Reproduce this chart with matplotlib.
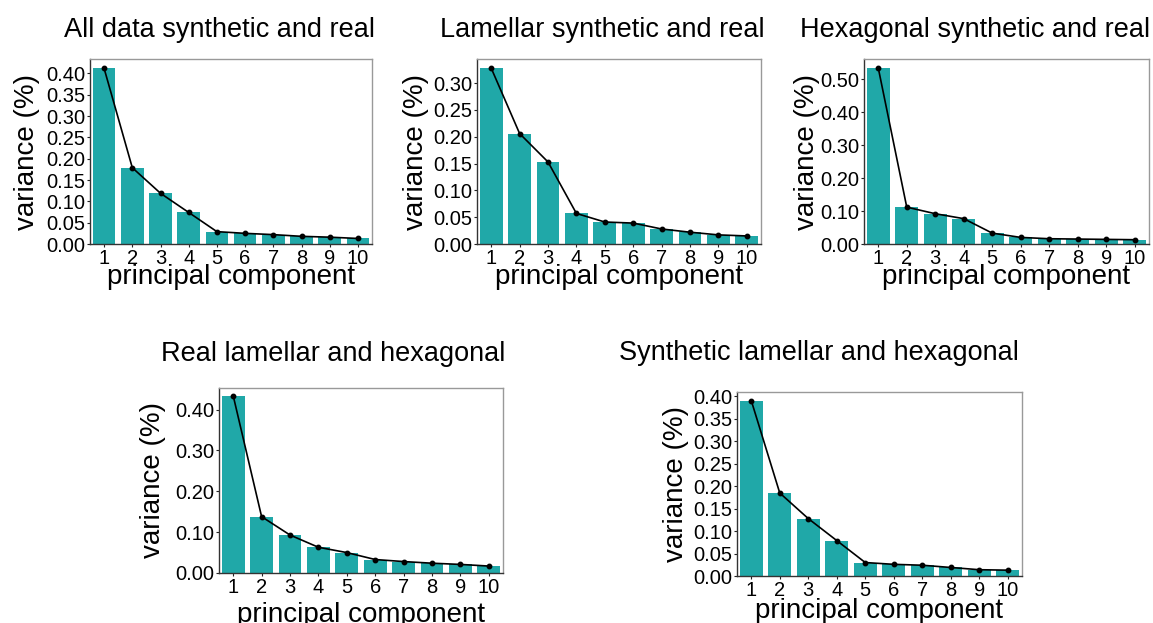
import numpy as np
import matplotlib
matplotlib.use("Agg")
import matplotlib.pyplot as plt

plt.rcParams['font.family'] = ['Liberation Sans', 'DejaVu Sans']

components = list(range(1, 11))

titles = [
    "All data synthetic and real",
    "Lamellar synthetic and real",
    "Hexagonal synthetic and real",
    "Real lamellar and hexagonal",
    "Synthetic lamellar and hexagonal",
]

var_all = [0.412, 0.179, 0.119, 0.074, 0.029, 0.025, 0.022, 0.018, 0.016, 0.013]
var_lam = [0.328, 0.206, 0.153, 0.057, 0.041, 0.039, 0.028, 0.022, 0.017, 0.015]
var_hex = [0.535, 0.112, 0.092, 0.077, 0.033, 0.020, 0.016, 0.015, 0.014, 0.013]
var_real = [0.434, 0.138, 0.093, 0.063, 0.050, 0.033, 0.028, 0.024, 0.021, 0.017]
var_syn = [0.391, 0.185, 0.128, 0.079, 0.030, 0.026, 0.024, 0.019, 0.014, 0.013]

series = [var_all, var_lam, var_hex, var_real, var_syn]
ymax = [0.434, 0.345, 0.562, 0.453, 0.41]
ystep = [0.05, 0.05, 0.10, 0.10, 0.05]

W, H = 1153, 623
# axes boxes in pixels: left, top, right, bottom
boxes = [
    (90, 59, 372, 244),
    (477, 59, 761, 244),
    (864, 59, 1149, 244),
    (219, 388, 503, 573),
    (737, 392, 1022, 576),
]
title_pos = [(219, 37), (602, 37), (975, 37), (333, 361), (819, 360)]
ylabel_x = [27, 416, 807, 153, 676]
xlabel_base = [284, 284, 284, 622, 618]

bar_color = '#20a8a8'

fig = plt.figure(figsize=(W / 100, H / 100), dpi=100)

for i, vals in enumerate(series):
    l, t, r, b = boxes[i]
    ax = fig.add_axes([l / W, 1 - b / H, (r - l) / W, (b - t) / H])
    x = np.arange(len(components))
    ax.bar(x, vals, width=0.8, color=bar_color, zorder=1)
    ax.plot(x, vals, color='black', lw=1.2, marker='o', markersize=3.2, zorder=3)
    ax.set_xlim(-0.5, 9.5)
    ax.set_ylim(0, ymax[i])
    ticks = np.arange(0, ymax[i] + 1e-9, ystep[i])
    ax.set_yticks(ticks)
    ax.set_yticklabels([f"{v:.2f}" for v in ticks])
    ax.set_xticks(x)
    ax.set_xticklabels([str(c) for c in components])
    ax.tick_params(axis='both', labelsize=14.5, length=2, width=0.8, pad=1.5,
                   colors='#222222', labelcolor='black')
    for s in ['left', 'bottom']:
        ax.spines[s].set_color('#333333')
    for s in ['top', 'right']:
        ax.spines[s].set_color('#999999')
    for s in ax.spines.values():
        s.set_linewidth(1.0)

    tx, ty = title_pos[i]
    fig.text(tx / W, 1 - ty / H, titles[i], fontsize=19.5, ha='center', va='baseline')
    fig.text(ylabel_x[i] / W, 1 - ((t + b) / 2) / H, "variance (%)", fontsize=20,
             rotation=90, ha='center', va='center')
    fig.text(((l + r) / 2) / W, 1 - xlabel_base[i] / H, "principal component",
             fontsize=20, ha='center', va='baseline')

fig.savefig('out.png', dpi=100)
